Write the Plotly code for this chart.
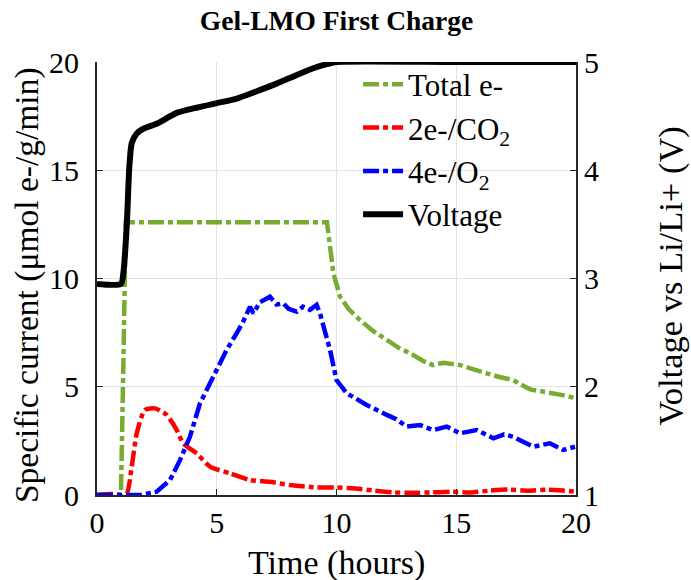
import plotly.graph_objects as go

# Time (hours) and values
t_total = [0, 1.0, 1.1, 1.2, 3, 5, 7, 9, 9.6, 9.75, 9.87, 10.15, 10.5, 10.98, 11.5, 12.1, 12.6, 13.2, 13.6, 14.04, 14.46, 15.16, 15.7, 16.27, 16.8, 17.38, 17.7, 18.08, 18.5, 19.05, 19.5, 20]
total_e = [0, 0, 6.0, 12.6, 12.6, 12.6, 12.6, 12.6, 12.6, 11.3, 10.24, 9.16, 8.6, 8.08, 7.6, 7.16, 6.8, 6.47, 6.2, 6.0, 6.11, 6.0, 5.8, 5.62, 5.45, 5.31, 5.1, 4.88, 4.8, 4.7, 4.6, 4.47]

t_co2 = [0, 0.6, 1.0, 1.24, 1.45, 1.66, 2.0, 2.42, 2.91, 3.33, 3.6, 4.16, 4.72, 5.55, 6.39, 7.22, 8.06, 9.17, 10.0, 10.8, 11.6, 12.4, 13.2, 14.0, 14.8, 15.6, 16.4, 17.2, 18.0, 18.8, 19.5, 20]
co2 = [0, 0.05, 0, 0.05, 1.31, 2.85, 3.93, 4.0, 3.7, 3.0, 2.39, 1.92, 1.31, 1.0, 0.69, 0.61, 0.46, 0.35, 0.35, 0.3, 0.2, 0.12, 0.1, 0.12, 0.15, 0.12, 0.2, 0.25, 0.2, 0.25, 0.2, 0.15]

t_o2 = [0, 1.0, 1.8, 2.49, 3.05, 3.47, 3.88, 4.3, 4.86, 5.41, 5.83, 6.1, 6.39, 6.53, 6.8, 7.22, 7.5, 7.78, 8.0, 8.34, 8.6, 8.89, 9.17, 9.31, 9.73, 10.0, 10.43, 11.26, 12.1, 12.5, 12.93, 13.49, 14.04, 14.6, 15.16, 15.85, 16.55, 17.0, 17.38, 18.21, 18.91, 19.47, 19.96]
o2 = [0, 0, 0, 0.15, 0.69, 1.62, 2.69, 4.23, 5.46, 6.7, 7.47, 8.0, 8.7, 8.39, 8.9, 9.16, 8.8, 8.85, 8.6, 8.47, 8.7, 8.55, 8.78, 8.39, 6.7, 5.31, 4.7, 4.16, 3.7, 3.5, 3.16, 3.23, 3.0, 3.16, 2.85, 3.0, 2.62, 2.8, 2.69, 2.23, 2.39, 2.08, 2.23]

t_v = [0, 1.0, 1.1, 1.24, 1.35, 1.45, 1.66, 2.0, 2.49, 3.33, 4.2, 5.0, 5.8, 6.67, 7.5, 8.34, 9.0, 9.59, 10.0, 15, 20]
voltage = [2.95, 2.95, 3.05, 3.48, 4.03, 4.25, 4.34, 4.39, 4.43, 4.53, 4.58, 4.62, 4.66, 4.73, 4.8, 4.88, 4.94, 4.98, 5.0, 5.0, 5.0]

x_ticks = [0, 5, 10, 15, 20]
y_ticks = [0, 5, 10, 15, 20]
y2_ticks = [1, 2, 3, 4, 5]

FONT = "Liberation Serif"
AX = "#262626"
GRID = "#e3e3e3"
DASH = "16px,4px,5px,4px"

fig = go.Figure()
fig.add_trace(go.Scatter(x=t_total, y=total_e, name="Total e-", mode="lines",
                         line=dict(color="#77ac30", width=4.5, dash=DASH)))
fig.add_trace(go.Scatter(x=t_co2, y=co2, name="2e-/CO<sub>2</sub>", mode="lines",
                         line=dict(color="#ff0000", width=4.5, dash=DASH, shape="spline", smoothing=0.6)))
fig.add_trace(go.Scatter(x=t_o2, y=o2, name="4e-/O<sub>2</sub>", mode="lines",
                         line=dict(color="#0000ff", width=4.5, dash=DASH)))
fig.add_trace(go.Scatter(x=t_v, y=voltage, name="Voltage", mode="lines", yaxis="y2",
                         line=dict(color="#000000", width=6, shape="spline", smoothing=0.6)))

fig.update_layout(
    width=691, height=580,
    margin=dict(l=97, r=115, t=62, b=85, autoexpand=False),
    paper_bgcolor="white", plot_bgcolor="white",
    font=dict(family=FONT, size=29, color="black"),
    title=dict(text="<b>Gel-LMO First Charge</b>", x=0.5, xref="paper", xanchor="center",
               y=0.982, yanchor="top", font=dict(size=27.5, family=FONT)),
    xaxis=dict(range=[0, 20], tickvals=x_ticks, ticks="inside", ticklen=6, tickcolor=AX,
               tickfont=dict(size=30), automargin=False,
               showline=True, linecolor=AX, linewidth=2, showgrid=True, gridcolor=GRID, gridwidth=1,
               zeroline=False, mirror=False),
    yaxis=dict(range=[0, 20], tickvals=y_ticks, ticks="inside", ticklen=6, tickcolor=AX,
               tickfont=dict(size=30), automargin=False, ticklabelstandoff=10,
               showline=True, linecolor=AX, linewidth=2, showgrid=True, gridcolor=GRID, gridwidth=1,
               zeroline=False),
    yaxis2=dict(range=[1, 5], tickvals=y2_ticks, overlaying="y", side="right", ticks="inside",
                tickfont=dict(size=30), automargin=False,
                ticklen=6, tickcolor=AX, showline=True, linecolor=AX, linewidth=2, showgrid=False,
                zeroline=False),
    legend=dict(x=0.545, y=1.01, xanchor="left", yanchor="top", bgcolor="rgba(0,0,0,0)",
                font=dict(size=31, family=FONT), itemwidth=40, tracegroupgap=0),
    showlegend=True,
    annotations=[
        dict(text="Time (hours)", xref="paper", yref="paper", x=0.5, y=-0.158,
             xanchor="center", yanchor="middle", showarrow=False, font=dict(size=34)),
        dict(text="Specific current (μmol e-/g/min)", xref="paper", yref="paper", x=-0.146, y=0.485,
             xanchor="center", yanchor="middle", textangle=-90, showarrow=False, font=dict(size=33.5)),
        dict(text="Voltage vs Li/Li+ (V)", xref="paper", yref="paper", x=1.198, y=0.506,
             xanchor="center", yanchor="middle", textangle=-90, showarrow=False, font=dict(size=34.5)),
    ],
)

fig.write_html("out.html")
